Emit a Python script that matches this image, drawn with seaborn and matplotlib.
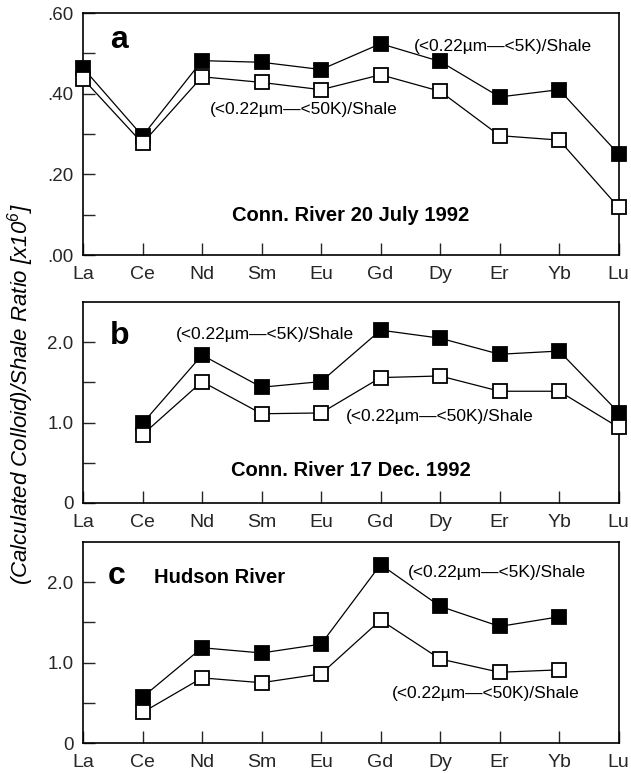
import matplotlib
matplotlib.use("Agg")
import matplotlib.pyplot as plt
from matplotlib.ticker import FixedLocator, FixedFormatter, NullFormatter
import pandas as pd
import seaborn as sns

# Rare earth elements along the x axis
elements = ["La", "Ce", "Nd", "Sm", "Eu", "Gd", "Dy", "Er", "Yb", "Lu"]

# (a) Conn. River 20 July 1992
a_elements = ["La", "Ce", "Nd", "Sm", "Eu", "Gd", "Dy", "Er", "Yb", "Lu"]
a_5k = [0.464, 0.295, 0.482, 0.478, 0.460, 0.524, 0.480, 0.392, 0.410, 0.250]
a_50k = [0.437, 0.277, 0.442, 0.428, 0.410, 0.447, 0.406, 0.296, 0.285, 0.118]

# (b) Conn. River 17 Dec. 1992
b_elements = ["Ce", "Nd", "Sm", "Eu", "Gd", "Dy", "Er", "Yb", "Lu"]
b_5k = [0.99, 1.84, 1.44, 1.51, 2.15, 2.05, 1.85, 1.89, 1.125]
b_50k = [0.85, 1.51, 1.11, 1.12, 1.56, 1.58, 1.39, 1.39, 0.94]

# (c) Hudson River
c_elements = ["Ce", "Nd", "Sm", "Eu", "Gd", "Dy", "Er", "Yb"]
c_5k = [0.57, 1.185, 1.12, 1.23, 2.22, 1.70, 1.45, 1.57]
c_50k = [0.38, 0.81, 0.75, 0.86, 1.53, 1.045, 0.88, 0.91]

label_5k = "(<0.22µm—<5K)/Shale"
label_50k = "(<0.22µm—<50K)/Shale"

sns.set_style("ticks")
plt.rcParams["font.family"] = ["Liberation Sans", "DejaVu Sans"]
plt.rcParams["mathtext.fontset"] = "custom"
plt.rcParams["mathtext.it"] = "Liberation Sans:italic"
plt.rcParams["mathtext.rm"] = "Liberation Sans:italic"

fig = plt.figure(figsize=(6.31, 7.73), dpi=100)

left, width = 0.1315, 0.849
ax_a = fig.add_axes([left, 0.6701, width, 0.313])
ax_b = fig.add_axes([left, 0.3493, width, 0.260])
ax_c = fig.add_axes([left, 0.0388, width, 0.260])


def frame(els, v5, v50):
    pos = [elements.index(e) for e in els]
    return (pd.DataFrame({"pos": pos, "value": v5}),
            pd.DataFrame({"pos": pos, "value": v50}))


def draw(ax, els, v5, v50):
    d5, d50 = frame(els, v5, v50)
    common = dict(x="pos", y="value", ax=ax, color="black", linewidth=0.9,
                  marker="s", markersize=10, markeredgewidth=1.3,
                  markeredgecolor="black", clip_on=False, legend=False)
    sns.lineplot(data=d5, markerfacecolor="black", zorder=3, **common)
    sns.lineplot(data=d50, markerfacecolor="white", zorder=4, **common)


def style(ax, ylim, major, labels, minor):
    ax.set_xlim(0, 9)
    ax.set_ylim(*ylim)
    ax.xaxis.set_major_locator(FixedLocator(range(len(elements))))
    ax.xaxis.set_major_formatter(FixedFormatter(elements))
    ax.yaxis.set_major_locator(FixedLocator(major))
    ax.yaxis.set_major_formatter(FixedFormatter(labels))
    ax.yaxis.set_minor_locator(FixedLocator(minor))
    ax.yaxis.set_minor_formatter(NullFormatter())
    ax.tick_params(axis="x", direction="in", length=8.5, width=1.0,
                   labelsize=14, pad=8, top=False)
    ax.tick_params(axis="y", which="both", direction="in", length=8.5,
                   width=1.0, labelsize=13.5, pad=7, right=False)
    for s in ax.spines.values():
        s.set_visible(True)
        s.set_linewidth(1.2)
        s.set_color("black")
    ax.set_xlabel("")
    ax.set_ylabel("")


draw(ax_a, a_elements, a_5k, a_50k)
draw(ax_b, b_elements, b_5k, b_50k)
draw(ax_c, c_elements, c_5k, c_50k)

style(ax_a, (0, 0.6), [0, 0.2, 0.4, 0.6], [".00", ".20", ".40", ".60"],
      [0.1, 0.3, 0.5])
style(ax_b, (0, 2.5), [0, 1, 2], ["0", "1.0", "2.0"], [0.5, 1.5])
style(ax_c, (0, 2.5), [0, 1, 2], ["0", "1.0", "2.0"], [0.5, 1.5])

txt = dict(color="black", va="center")
letter = dict(fontsize=23, fontweight="bold", ha="center", **txt)
title = dict(fontsize=14.5, fontweight="bold", **txt)

# panel a annotations
ax_a.text(0.60, 0.534, "a", **letter)
ax_a.text(5.56, 0.518, label_5k, fontsize=12.5, ha="left", **txt)
ax_a.text(2.14, 0.360, label_50k, fontsize=12.5, ha="left", **txt)
ax_a.text(4.49, 0.097, "Conn. River 20 July 1992", ha="center", **title)

# panel b annotations
ax_b.text(0.62, 2.08, "b", **letter)
ax_b.text(1.56, 2.10, label_5k, fontsize=12.5, ha="left", **txt)
ax_b.text(4.41, 1.08, label_50k, fontsize=12.5, ha="left", **txt)
ax_b.text(4.50, 0.40, "Conn. River 17 Dec. 1992", ha="center", **title)

# panel c annotations
ax_c.text(0.57, 2.08, "c", **letter)
ax_c.text(1.19, 2.06, "Hudson River", ha="left", **title)
ax_c.text(5.46, 2.12, label_5k, fontsize=12.5, ha="left", **txt)
ax_c.text(5.19, 0.62, label_50k, fontsize=12.5, ha="left", **txt)

fig.text(0.032, 0.49, r"(Calculated Colloid)/Shale Ratio [x10$^{6}$]",
         rotation=90, fontsize=16, fontstyle="italic", ha="center",
         va="center", color="black")

fig.savefig("out.png", dpi=100, facecolor="white")
